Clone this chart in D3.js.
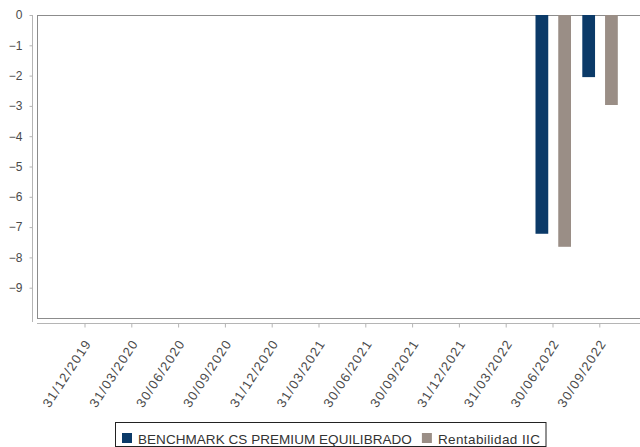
<!DOCTYPE html>
<html>
<head>
<meta charset="utf-8">
<script src="https://cdn.jsdelivr.net/npm/d3@7"></script>
<style>
  html, body { margin: 0; padding: 0; background: #fff; }
  svg { display: block; font-family: "Liberation Sans", Arial, sans-serif; }
</style>
</head>
<body>
<svg id="chart" width="640" height="447"></svg>
<script>
const categories = ["31/12/2019","31/03/2020","30/06/2020","30/09/2020","31/12/2020","31/03/2021",
                    "30/06/2021","30/09/2021","31/12/2021","31/03/2022","30/06/2022","30/09/2022"];
const seriesNames = ["BENCHMARK CS PREMIUM EQUILIBRADO", "Rentabilidad IIC"];
const benchmark = [null,null,null,null,null,null,null,null,null,null,-7.22,-2.05];
const rentabilidad = [null,null,null,null,null,null,null,null,null,null,-7.65,-2.97];
const yTicks = [0,-1,-2,-3,-4,-5,-6,-7,-8,-9];
const colors = ["#0b3a68", "#9a8e86"];

const svg = d3.select("#chart");
const plot = {left: 37, right: 641, top: 15, bottom: 318};

const y = d3.scaleLinear().domain([-10, 0]).range([plot.bottom, plot.top]);
const x = d3.scaleBand().domain(categories).range([61.6, 623.2]).padding(0);
const x1 = d3.scaleBand().domain(seriesNames).range([0, 35.5]).paddingInner(0.44).paddingOuter(0);

// plot border
svg.append("rect")
  .attr("x", plot.left + 0.5).attr("y", plot.top + 0.5)
  .attr("width", plot.right - plot.left).attr("height", plot.bottom - plot.top)
  .attr("fill", "none").attr("stroke", "#8c8c8c").attr("stroke-width", 1);

// y axis
const yAxis = d3.axisLeft(y).tickValues(yTicks).tickSize(3).tickPadding(7).tickFormat(d3.format("d"));
const gy = svg.append("g").attr("transform", "translate(32.5,0)").call(yAxis);
gy.select(".domain").attr("stroke", "#b5b5b5").attr("d", `M0,${plot.top}V${plot.bottom + 4}`);
gy.selectAll(".tick line").attr("stroke", "#b5b5b5");
gy.selectAll(".tick text").attr("fill", "#4a4a4a").style("font-size", "12px")
  .style("font-family", "'Liberation Sans', Arial, sans-serif");

// x axis
const xAxis = d3.axisBottom(x).tickSize(4).tickFormat("");
const gx = svg.append("g").attr("transform", `translate(0,${plot.bottom + 5.5})`).call(xAxis);
gx.select(".domain").attr("stroke", "#b5b5b5").attr("d", `M${plot.left},0H${plot.right}`);
gx.selectAll(".tick line").attr("stroke", "#b5b5b5");

// x labels
svg.append("g").selectAll("text").data(categories).join("text")
  .attr("transform", d => `translate(${x(d) + x.bandwidth() / 2 + 7},${plot.bottom + 25}) rotate(-57)`)
  .attr("text-anchor", "end")
  .attr("fill", "#4a4a4a")
  .style("font-size", "13px")
  .style("letter-spacing", "1.3px")
  .text(d => d);

// bars
const series = [benchmark, rentabilidad];
series.forEach((vals, si) => {
  svg.append("g").selectAll("rect")
    .data(categories.map((c, i) => ({c, v: vals[i]})).filter(d => d.v !== null))
    .join("rect")
    .attr("x", d => x(d.c) + x.bandwidth() / 2 - 17.5 + x1(seriesNames[si]))
    .attr("width", x1.bandwidth())
    .attr("y", d => y(0))
    .attr("height", d => y(d.v) - y(0))
    .attr("fill", colors[si]);
});

// legend
const lg = svg.append("g");
const box = lg.append("rect").attr("fill", "#fff").attr("stroke", "#222").attr("stroke-width", 1);
let lx = 122;
seriesNames.forEach((name, i) => {
  lg.append("rect").attr("x", lx).attr("y", 433).attr("width", 10).attr("height", 10).attr("fill", colors[i]);
  const t = lg.append("text").attr("x", lx + 16).attr("y", 443.5).attr("fill", "#333")
    .style("font-size", "13.5px").style("letter-spacing", i === 1 ? "0.4px" : "0.05px").text(name);
  const w = t.node().getComputedTextLength();
  lx = lx + 16 + w + 10;
});
box.attr("x", 115.5).attr("y", 422.5).attr("width", Math.min(lx - 10 + 7, 546) - 115.5).attr("height", 24);
</script>
</body>
</html>
